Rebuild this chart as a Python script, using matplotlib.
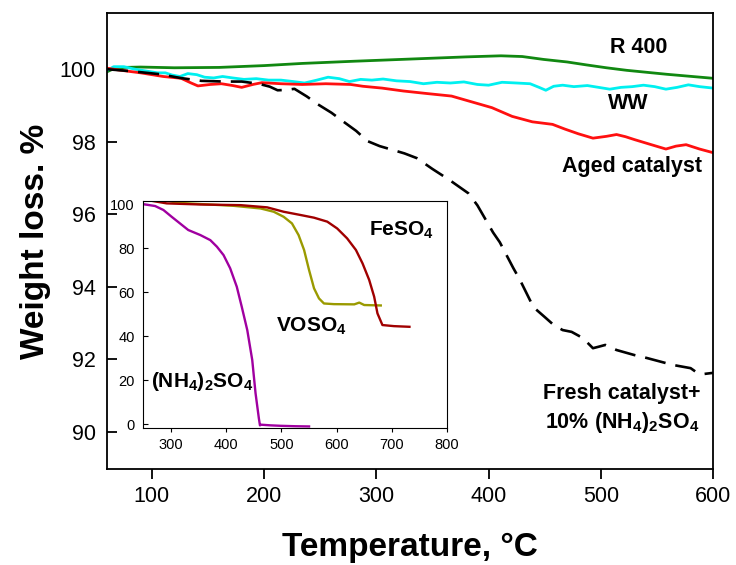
import numpy as np
import matplotlib
matplotlib.use('Agg')
import matplotlib.pyplot as plt

plt.rcParams['font.family'] = ['Liberation Sans', 'DejaVu Sans']
plt.rcParams['mathtext.fontset'] = 'custom'
plt.rcParams['mathtext.rm'] = 'Liberation Sans:bold'
plt.rcParams['mathtext.it'] = 'Liberation Sans:bold'
plt.rcParams['mathtext.bf'] = 'Liberation Sans:bold'

# main TGA curves (temperature C, weight %)
r400_t = [60, 65, 75, 90, 120, 160, 200, 234, 280, 330, 380, 411, 430, 449, 470, 487, 505, 523, 559, 600]
r400_w = [99.93, 100.0, 100.05, 100.06, 100.04, 100.05, 100.1, 100.16, 100.22, 100.28, 100.34, 100.37,
          100.35, 100.27, 100.2, 100.12, 100.04, 99.97, 99.86, 99.75]

ww_t = [60, 66, 75, 85, 95, 105, 112, 118, 125, 132, 140, 147, 155, 163, 172, 182, 193, 204, 215, 226,
        236, 247, 257, 267, 276, 286, 296, 306, 318, 330, 342, 354, 366, 378, 390, 400, 412, 425, 437,
        445, 451, 458, 466, 476, 488, 498, 508, 518, 528, 538, 548, 558, 568, 578, 588, 600]
ww_w = [99.97, 100.07, 100.07, 100.0, 99.95, 99.9, 99.9, 99.84, 99.8, 99.88, 99.85, 99.78, 99.76, 99.8,
        99.76, 99.72, 99.74, 99.7, 99.7, 99.66, 99.62, 99.7, 99.78, 99.74, 99.66, 99.72, 99.7, 99.73,
        99.68, 99.66, 99.6, 99.64, 99.62, 99.65, 99.58, 99.56, 99.64, 99.62, 99.6, 99.5, 99.42, 99.53,
        99.56, 99.52, 99.55, 99.5, 99.45, 99.5, 99.52, 99.56, 99.52, 99.45, 99.5, 99.57, 99.52, 99.48]

aged_t = [60, 70, 90, 110, 126, 135, 141, 152, 162, 172, 180, 190, 198, 215, 234, 255, 277, 288, 305,
          324, 345, 367, 385, 403, 421, 439, 457, 468, 480, 493, 505, 514, 522, 530, 545, 558, 567, 576,
          588, 600]
aged_w = [100.03, 99.98, 99.9, 99.8, 99.75, 99.62, 99.54, 99.58, 99.6, 99.55, 99.5, 99.58, 99.63, 99.6,
          99.58, 99.6, 99.58, 99.53, 99.48, 99.4, 99.33, 99.26, 99.1, 98.94, 98.7, 98.55, 98.48, 98.35,
          98.22, 98.1, 98.15, 98.2, 98.14, 98.06, 97.92, 97.8, 97.88, 97.92, 97.8, 97.7]

fresh_t = [60, 80, 108, 125, 144, 165, 180, 195, 205, 212, 220, 227, 238, 248, 260, 270, 282, 292, 303,
           313, 325, 336, 350, 365, 382, 390, 404, 410, 422, 428, 440, 450, 458, 466, 474, 484, 493, 498,
           504, 514, 530, 541, 564, 580, 586, 592, 600]
fresh_w = [100.0, 99.95, 99.86, 99.76, 99.68, 99.66, 99.66, 99.6, 99.52, 99.42, 99.43, 99.46, 99.25,
           99.03, 98.8, 98.57, 98.3, 98.02, 97.88, 97.79, 97.68, 97.55, 97.25, 96.95, 96.58, 96.25, 95.5,
           95.23, 94.52, 94.19, 93.44, 93.17, 92.95, 92.81, 92.76, 92.59, 92.31, 92.35, 92.4, 92.26, 92.12,
           92.04, 91.85, 91.76, 91.63, 91.6, 91.63]

# inset curves (pure sulphates)
nh4_t = [248, 271, 286, 301, 316, 331, 353, 371, 383, 395, 407, 419, 428, 438, 447, 453, 459, 461, 463,
         480, 498, 525, 550]
nh4_w = [100.0, 99.1, 97.3, 94.2, 91.2, 88.2, 85.9, 83.6, 80.6, 76.8, 70.8, 62.4, 53.3, 42.7, 29.1, 14.0,
         2.6, -0.6, -0.3, -0.6, -0.8, -1.0, -1.1]

voso4_t = [295, 310, 353, 413, 462, 486, 504, 519, 531, 541, 550, 559, 568, 577, 595, 632, 641, 650, 680]
voso4_w = [101.5, 100.6, 100.0, 99.2, 98.0, 96.5, 94.2, 91.2, 85.9, 79.1, 70.0, 61.7, 57.1, 54.8, 54.5,
           54.4, 55.2, 54.1, 53.9]

feso4_t = [264, 292, 353, 426, 474, 504, 535, 559, 583, 601, 619, 635, 647, 659, 668, 674, 683, 704, 732]
feso4_w = [101.5, 100.3, 99.8, 99.5, 98.5, 96.5, 95.0, 93.8, 92.0, 88.9, 84.4, 79.1, 73.0, 65.5, 57.9,
           50.3, 45.0, 44.5, 44.2]

main_xticks = [100, 200, 300, 400, 500, 600]
main_yticks = [90, 92, 94, 96, 98, 100]
inset_xticks = [300, 400, 500, 600, 700, 800]
inset_yticks = [0, 20, 40, 60, 80, 100]

fig = plt.figure(figsize=(7.36, 5.65), dpi=100)
ax = fig.add_axes([0.1454, 0.1699, 0.8234, 0.8071])

ax.plot(r400_t, r400_w, color='#118811', lw=2.0)
ax.plot(ww_t, ww_w, color='#00f0f0', lw=2.0)
ax.plot(aged_t, aged_w, color='#ff1010', lw=2.0)
ax.plot(fresh_t, fresh_w, color='black', lw=1.9, linestyle=(0, (8, 3.8)))

ax.set_xlim(60, 600)
ax.set_ylim(88.98, 101.55)
ax.set_xticks(main_xticks)
ax.set_yticks(main_yticks)
ax.tick_params(axis='x', direction='out', length=7, width=1.3, labelsize=15.5, pad=5)
ax.tick_params(axis='y', direction='in', length=7, width=1.3, labelsize=15.5, pad=8)
for s in ax.spines.values():
    s.set_linewidth(1.3)

ax.set_xlabel('Temperature, \u00b0C', fontsize=24, fontweight='bold', labelpad=18)
ax.set_ylabel('Weight loss. %', fontsize=24, fontweight='bold', labelpad=6)

lab = dict(fontsize=15.5, fontweight='bold', ha='center', va='center')
ax.text(534, 100.6, 'R 400', **lab)
ax.text(524, 99.06, 'WW', **lab)
ax.text(528, 97.33, 'Aged catalyst', **lab)
ax.text(519, 91.07, 'Fresh catalyst+', **lab)
ax.text(519, 90.25, '10% (NH$_4$)$_2$SO$_4$', **lab)

# inset
ins = fig.add_axes([0.1943, 0.2425, 0.413, 0.4018])
ins.set_facecolor('white')
ins.plot(nh4_t, nh4_w, color='#a000a0', lw=1.7)
ins.plot(voso4_t, voso4_w, color='#9a9a00', lw=1.7)
ins.plot(feso4_t, feso4_w, color='#a00000', lw=1.7)
ins.set_xlim(249, 800)
ins.set_ylim(-1.8, 101.4)
ins.set_xticks(inset_xticks)
ins.set_yticks(inset_yticks)
ins.tick_params(axis='x', direction='out', length=3, width=0.8, labelsize=10.5, pad=4)
ins.tick_params(axis='y', direction='in', length=3.5, width=0.8, labelsize=10.5, pad=6)
for s in ins.spines.values():
    s.set_linewidth(0.8)

ilab = dict(fontsize=15, fontweight='bold', ha='center', va='center')
ins.text(718, 88, 'FeSO$_4$', **ilab)
ins.text(555, 44.2, 'VOSO$_4$', **ilab)
ins.text(356, 19.2, '(NH$_4$)$_2$SO$_4$', **ilab)

fig.savefig('out.png', dpi=100)
